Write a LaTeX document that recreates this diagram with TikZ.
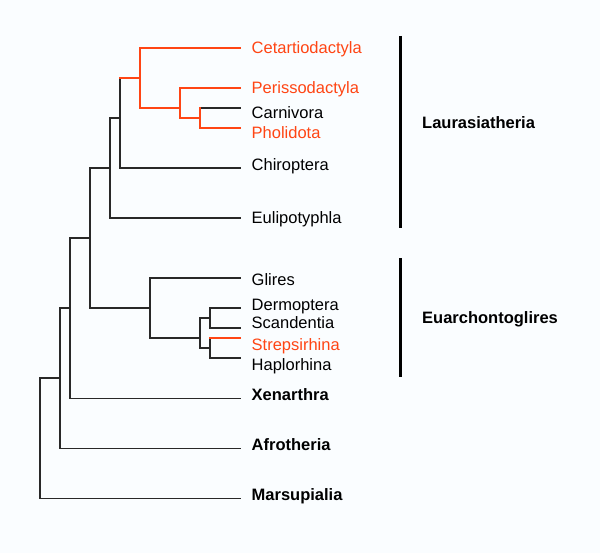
\documentclass[tikz,border=0pt]{standalone}
\usepackage{fontspec}
\setmainfont{Liberation Sans}
\definecolor{orng}{RGB}{255,69,20}
\definecolor{ink}{RGB}{40,40,40}
\definecolor{bg}{RGB}{250,253,255}
\begin{document}
\begin{tikzpicture}[x=1pt,y=-1pt,
  branch/.style={draw=ink, line width=1.6pt, line cap=rect},
  hot/.style={draw=orng, line width=1.6pt, line cap=rect},
  leaf/.style={anchor=base west, inner sep=0pt, font=\fontsize{16.5}{19}\selectfont},
  hotleaf/.style={leaf, text=orng},
  clade/.style={anchor=base west, inner sep=0pt, font=\fontsize{16.5}{19}\selectfont\bfseries},
  bar/.style={draw=black, line width=3pt}]
\fill[bg] (0,0) rectangle (600,553);
\useasboundingbox (0,0) rectangle (600,553);

% leaf ends
\coordinate (eCet) at (240,48.3);
\coordinate (ePer) at (240,88.3);
\coordinate (eCar) at (240,108.3);
\coordinate (ePho) at (240,128.3);
\coordinate (eChi) at (240,168.3);
\coordinate (eEul) at (240,218.3);
\coordinate (eGli) at (240,278.3);
\coordinate (eDer) at (240,308.3);
\coordinate (eSca) at (240,328.3);
\coordinate (eStr) at (240,338.3);
\coordinate (eHap) at (240,358.3);
\coordinate (eXen) at (240,398.3);
\coordinate (eAfr) at (240,448.3);
\coordinate (eMar) at (240,498.3);

% internal nodes
\coordinate (n200) at (200,118.3);
\coordinate (n180) at (180,108.3);
\coordinate (n140) at (140,78.3);
\coordinate (n120) at (120,118.3);
\coordinate (n110) at (110,168.3);
\coordinate (n210a) at (210,318.3);
\coordinate (n210b) at (210,348.3);
\coordinate (n200b) at (200,338.3);
\coordinate (n150) at (150,308.3);
\coordinate (n90) at (90,238.3);
\coordinate (n70) at (70,308.3);
\coordinate (n60) at (60,378.3);
\coordinate (n40) at (40,438.3);

% black branches
\draw[branch] (n120 |- n140) -- (n120 |- eChi);
\draw[branch] (n120 |- eChi) -- (eChi);
\draw[branch] (n110 |- n120) -- (n110 |- eEul);
\draw[branch] (n110 |- n120) -- (n120);
\draw[branch] (n110 |- eEul) -- (eEul);
\draw[branch] (n90 |- n110) -- (n90 |- n150);
\draw[branch] (n90 |- n110) -- (n110);
\draw[branch] (n90 |- n150) -- (n150);
\draw[branch] (n70 |- n90) -- (n70 |- eXen);
\draw[branch] (n70 |- n90) -- (n90);
\draw[branch] (n70 |- eXen) -- (eXen);
\draw[branch] (n60 |- n70) -- (n60 |- eAfr);
\draw[branch] (n60 |- n70) -- (n70);
\draw[branch] (n60 |- eAfr) -- (eAfr);
\draw[branch] (n40 |- n60) -- (n40 |- eMar);
\draw[branch] (n40 |- n60) -- (n60);
\draw[branch] (n40 |- eMar) -- (eMar);
\draw[branch] (n150 |- eGli) -- (n150 |- n200b);
\draw[branch] (n150 |- eGli) -- (eGli);
\draw[branch] (n150 |- n200b) -- (n200b);
\draw[branch] (n200b |- n210a) -- (n200b |- n210b);
\draw[branch] (n200b |- n210a) -- (n210a);
\draw[branch] (n200b |- n210b) -- (n210b);
\draw[branch] (n210a |- eDer) -- (n210a |- eSca);
\draw[branch] (n210a |- eDer) -- (eDer);
\draw[branch] (n210a |- eSca) -- (eSca);
\draw[branch] (n210b |- eStr) -- (n210b |- eHap);
\draw[branch] (n210b |- eHap) -- (eHap);
\draw[branch] (n200 |- eCar) -- (eCar);

% orange branches
\draw[hot] (n210b |- eStr) -- (eStr);
\draw[hot] (n120 |- n140) -- (n140);
\draw[hot] (n140 |- eCet) -- (n140 |- n180);
\draw[hot] (n140 |- eCet) -- (eCet);
\draw[hot] (n140 |- n180) -- (n180);
\draw[hot] (n180 |- ePer) -- (n180 |- n200);
\draw[hot] (n180 |- ePer) -- (ePer);
\draw[hot] (n180 |- n200) -- (n200);
\draw[hot] (n200 |- eCar) -- (n200 |- ePho);
\draw[hot] (n200 |- ePho) -- (ePho);

% leaf labels
\node[hotleaf] (lCet) at (251.5,54) {Cetartiodactyla};
\node[hotleaf] (lPer) at (251.5,93.3) {Perissodactyla};
\node[leaf] (lCar) at (251.5,118.3) {Carnivora};
\node[hotleaf] (lPho) at (251.5,138.7) {Pholidota};
\node[leaf] (lChi) at (251.5,170.7) {Chiroptera};
\node[leaf] (lEul) at (251.5,224) {Eulipotyphla};
\node[leaf] (lGli) at (251.5,286) {Glires};
\node[leaf] (lDer) at (251.5,310.7) {Dermoptera};
\node[leaf] (lSca) at (251.5,328.3) {Scandentia};
\node[hotleaf] (lStr) at (251.5,350.7) {Strepsirhina};
\node[leaf] (lHap) at (251.5,370.7) {Haplorhina};
\node[clade] (lXen) at (251.5,400.7) {Xenarthra};
\node[clade] (lAfr) at (251.5,450.7) {Afrotheria};
\node[clade] (lMar) at (251.5,500.7) {Marsupialia};

% group bars and labels
\coordinate (bLtop) at (400,36);
\coordinate (bLbot) at (400,228.3);
\coordinate (bEtop) at (400,258.3);
\coordinate (bEbot) at (400,377.3);
\draw[bar] (bLtop) -- (bLbot);
\draw[bar] (bEtop) -- (bEbot);
\node[clade] (gLau) at (422,128.7) {Laurasiatheria};
\node[clade] (gEua) at (422,324) {Euarchontoglires};
\end{tikzpicture}
\end{document}
